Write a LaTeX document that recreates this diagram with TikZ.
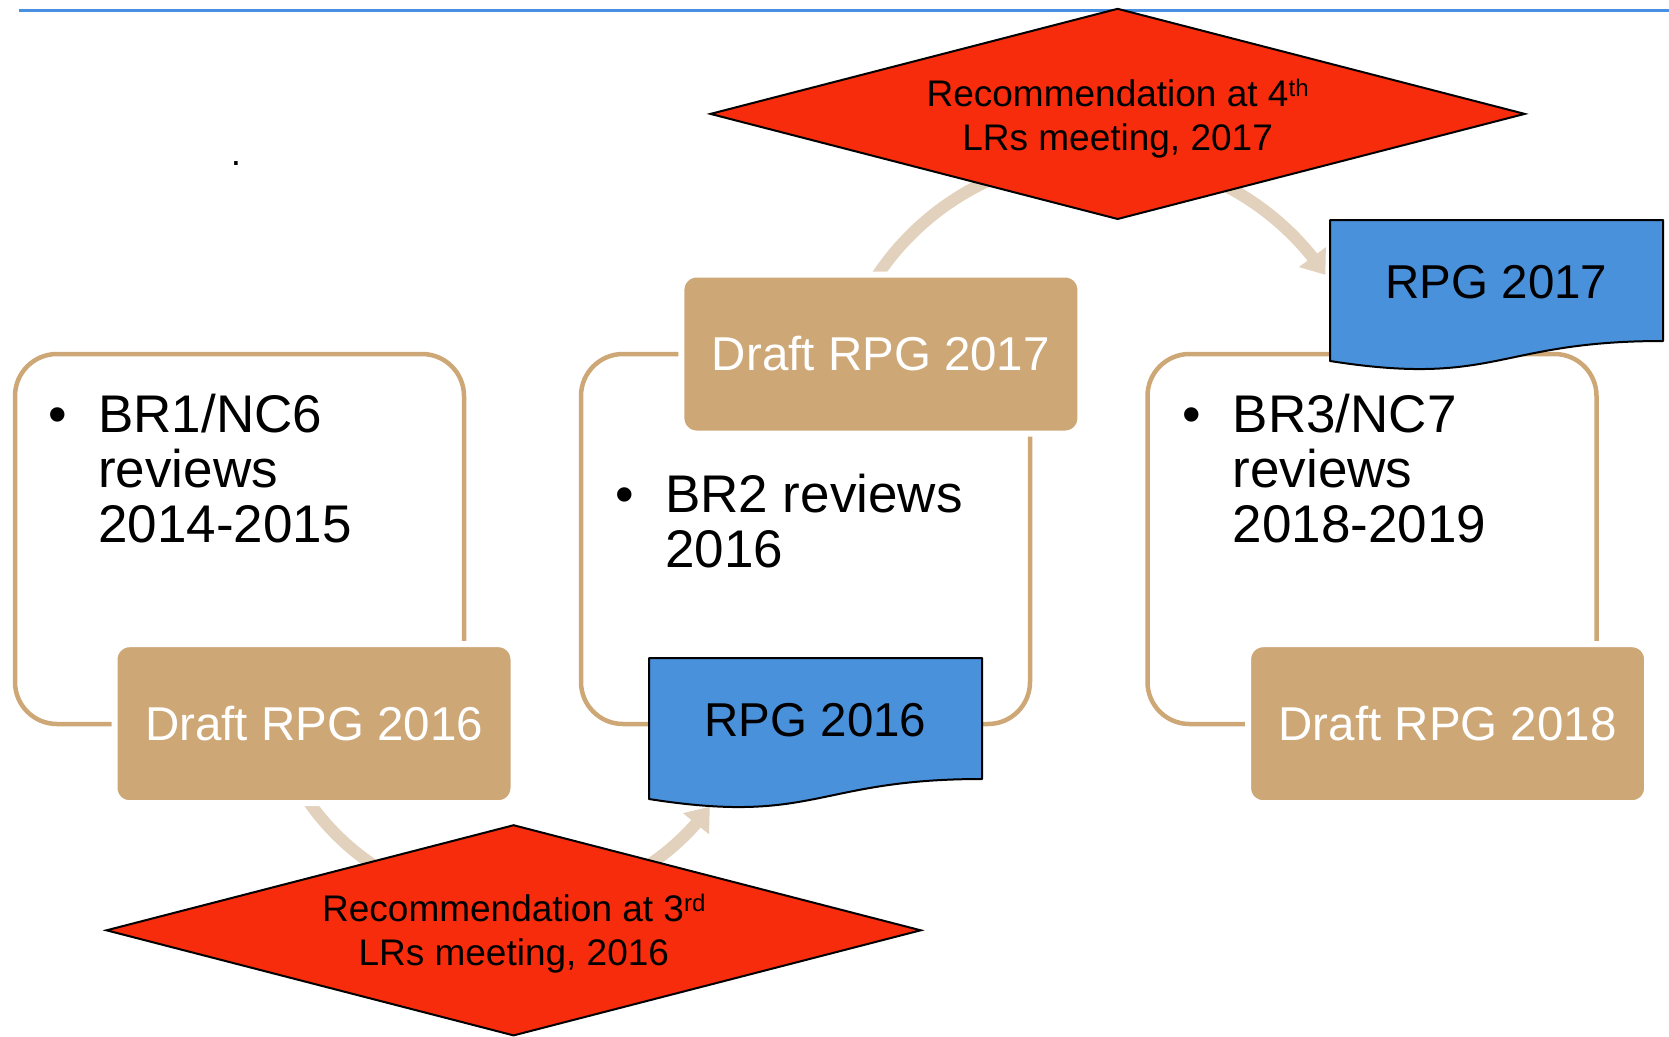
\documentclass[tikz,border=0pt]{standalone}
\usepackage{fontspec}
\setmainfont{Liberation Sans}
\usetikzlibrary{arrows.meta,bending,shapes.geometric,calc}
\definecolor{tanbox}{RGB}{205,167,118}
\definecolor{arcc}{RGB}{226,209,188}
\definecolor{redd}{RGB}{247,44,12}
\definecolor{bluedoc}{RGB}{74,145,220}
\definecolor{topline}{RGB}{74,144,226}
\newcommand\leftlines[2]{\vtop{\baselineskip=#1\relax\halign{##\hfil\cr#2\crcr}}}
\newcommand\centerlines[2]{\vtop{\baselineskip=#1\relax\halign{\hfil##\hfil\cr#2\crcr}}}
\newcommand\supr[1]{\raisebox{10pt}{\fontsize{24}{24}\selectfont #1}}
\tikzset{
  outline/.style={draw=tanbox, line width=4.5pt, rounded corners=42pt, minimum width=449pt, minimum height=370pt, inner sep=0pt},
  draftbox/.style={fill=tanbox, draw=white, line width=6pt, rounded corners=15pt, minimum width=399pt, minimum height=159pt, inner sep=0pt, text=white, font=\fontsize{47.5}{50}\selectfont},
  docshape/.style={fill=bluedoc, draw=black, line width=2pt, line join=round},
  docpic/.pic={\draw[docshape] (0,0) -- (333,0) -- (333,121) .. controls (166.5,121) and (166.5,167.2) .. (0,141) -- cycle;},
  doctext/.style={font=\fontsize{47.5}{50}\selectfont, inner sep=0pt},
  dia/.style={diamond, draw=black, fill=redd, line width=2pt, minimum width=815pt, minimum height=211pt, inner sep=0pt},
  diatext/.style={font=\fontsize{37}{44}\selectfont, inner sep=0pt, anchor=base},
  bultext/.style={font=\fontsize{53}{55}\selectfont, inner sep=0pt, anchor=base west},
  bul/.style={font=\fontsize{53}{55}\selectfont, inner sep=0pt, anchor=base},
  flow/.style={draw=arcc, line width=12pt, -{Triangle[width=32pt,length=22pt]}},
}
\begin{document}
\begin{tikzpicture}[x=1pt,y=-1pt]
\useasboundingbox (0,0) rectangle (1669,1036);
% top rule
\draw[topline, line width=2.5pt] (19,10.6) -- (1669,10.6);
% outline boxes
\node[outline] (box1) at (239.5,539) {};
\node[outline] (box2) at (805.5,539) {};
\node[outline] (box3) at (1372,539) {};
% curved flow arrows
\coordinate (a16) at (308.7,801.7);
\draw[flow] (a16) arc[start angle=145, end angle=36.4, radius=247];
\coordinate (a17) at (876.4,276.8);
\draw[flow] (a17) arc[start angle=-146.5, end angle=-34, radius=270];
% draft boxes
\node[draftbox] (d16) at (314,723.7) {Draft RPG 2016};
\node[draftbox] (d17) at (880.9,354) {Draft RPG 2017};
\node[draftbox] (d18) at (1447.6,723.7) {Draft RPG 2018};
% documents
\pic at (649,658) {docpic};
\node[doctext] (rpg16) at (815.5,720.5) {RPG 2016};
\pic at (1330,220) {docpic};
\node[doctext] (rpg17) at (1496.5,282.5) {RPG 2017};
% diamonds
\node[dia] (dm4) at (1117.6,113.9) {};
\node[diatext] (q4) at (1117.6,106.7) {\centerlines{44pt}{Recommendation at 4\supr{th}\cr LRs meeting, 2017}};
\node[dia] (dm3) at (513.6,930.3) {};
\node[diatext] (q3) at (513.8,921.7) {\centerlines{44pt}{Recommendation at 3\supr{rd}\cr LRs meeting, 2016}};
% bullet texts
\node[bul] (b1) at (58,432) {•};
\node[bultext] (t1) at (98,432) {\leftlines{55pt}{BR1/NC6\cr reviews\cr 2014-2015}};
\node[bul] (b2) at (625,512) {•};
\node[bultext] (t2) at (665,512) {\leftlines{55pt}{BR2 reviews\cr 2016}};
\node[bul] (b3) at (1192,432) {•};
\node[bultext] (t3) at (1232.5,432) {\leftlines{55pt}{BR3/NC7\cr reviews\cr 2018-2019}};
% stray dot
\node[font=\fontsize{37}{44}\selectfont, inner sep=0pt, anchor=base] (dot) at (236,165.5) {.};
\end{tikzpicture}
\end{document}
